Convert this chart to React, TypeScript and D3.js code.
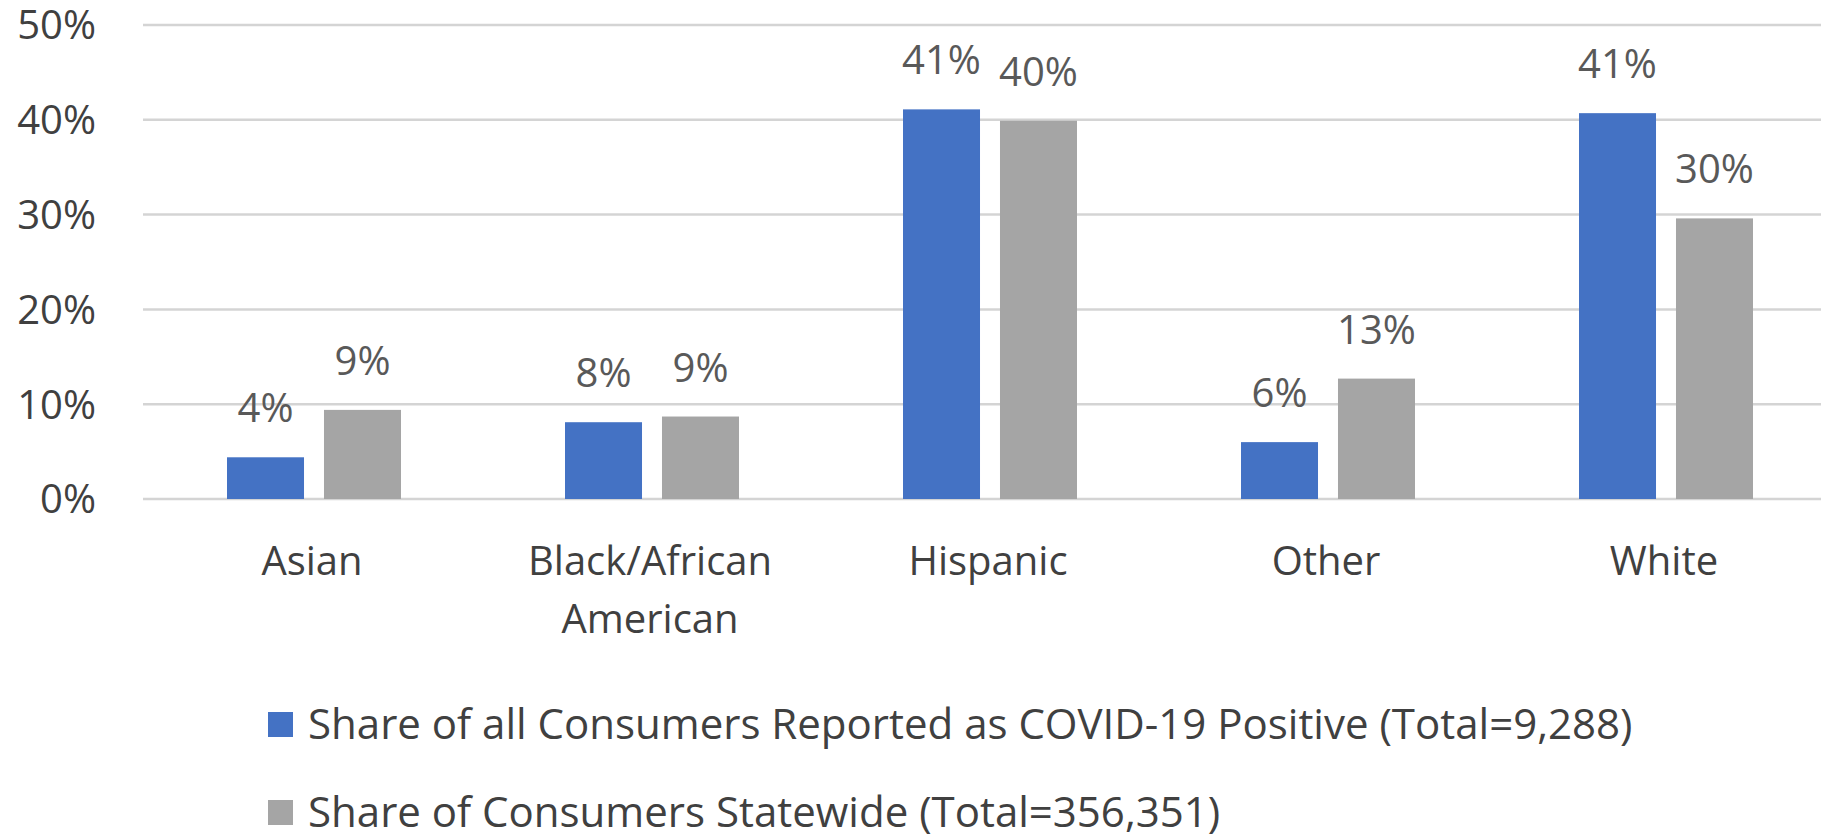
import * as d3 from 'd3';
import React from 'react';

// categories and series values (share, in percent)
const categories = ['Asian', 'Black/African American', 'Hispanic', 'Other', 'White'];
const categoryLines = [['Asian'], ['Black/African', 'American'], ['Hispanic'], ['Other'], ['White']];
const seriesNames = [
    'Share of all Consumers Reported as COVID-19 Positive (Total=9,288)',
    'Share of Consumers Statewide (Total=356,351)',
];
const positiveShare = [4.4, 8.1, 41.1, 6.0, 40.7];
const statewideShare = [9.4, 8.7, 39.9, 12.7, 29.6];
const yTicks = [0, 10, 20, 30, 40, 50];
const colors = ['#4472c4', '#a5a5a5'];

const App: React.FC = () => {
    const width = 1821;
    const height = 840;
    const font = '"Open Sans", "Noto Sans", sans-serif';
    const fontSize = 40;

    const y = d3.scaleLinear().domain([0, 50]).range([499, 25]);

    const x0 = d3.scaleBand<string>().domain(categories).range([145, 1835]);

    const groupWidth = 174;
    const x1 = d3
        .scaleBand<number>()
        .domain([0, 1])
        .range([0, groupWidth])
        .paddingInner(0.206);

    const series = [positiveShare, statewideShare];

    return (
        <div style={{ position: 'fixed', left: 0, top: 0 }}>
            <svg width={width} height={height} style={{ display: 'block', background: '#fff' }} fontFamily={font}>
                {/* gridlines */}
                <g stroke="#d4d4d4" strokeWidth={2.5}>
                    {yTicks.map((t) => (
                        <line key={t} x1={143} x2={width} y1={y(t)} y2={y(t)} />
                    ))}
                </g>
                {/* y tick labels */}
                <g fill="#404040" fontSize={fontSize} textAnchor="end">
                    {yTicks.map((t) => (
                        <text key={t} x={96} y={y(t)} dy="0.36em">
                            {t}%
                        </text>
                    ))}
                </g>
                {/* bars */}
                {categories.map((c, ci) => {
                    const gx = (x0(c) ?? 0) + (x0.bandwidth() - groupWidth) / 2;
                    return (
                        <g key={c}>
                            {series.map((s, si) => {
                                const bx = gx + (x1(si) ?? 0);
                                return (
                                    <g key={si}>
                                        <rect
                                            x={bx}
                                            y={y(s[ci])}
                                            width={x1.bandwidth()}
                                            height={y(0) - y(s[ci])}
                                            fill={colors[si]}
                                        />
                                        <text
                                            x={bx + x1.bandwidth() / 2}
                                            y={y(s[ci]) - 35}
                                            textAnchor="middle"
                                            fontSize={fontSize}
                                            fill="#595959"
                                        >
                                            {Math.round(s[ci])}%
                                        </text>
                                    </g>
                                );
                            })}
                        </g>
                    );
                })}
                {/* category labels */}
                <g fill="#404040" fontSize={fontSize} textAnchor="middle">
                    {categories.map((c, ci) => (
                        <text key={c} x={(x0(c) ?? 0) + x0.bandwidth() / 2 - 2} y={575}>
                            {categoryLines[ci].map((line, li) => (
                                <tspan key={li} x={(x0(c) ?? 0) + x0.bandwidth() / 2 - 2} dy={li === 0 ? 0 : 58}>
                                    {line}
                                </tspan>
                            ))}
                        </text>
                    ))}
                </g>
                {/* legend */}
                <g fontSize={42} fill="#404040">
                    {seriesNames.map((name, i) => (
                        <g key={name} transform={`translate(268, ${712 + i * 88})`}>
                            <rect width={25} height={25} fill={colors[i]} />
                            <text x={40} y={27}>
                                {name}
                            </text>
                        </g>
                    ))}
                </g>
            </svg>
        </div>
    );
};

export default App;
